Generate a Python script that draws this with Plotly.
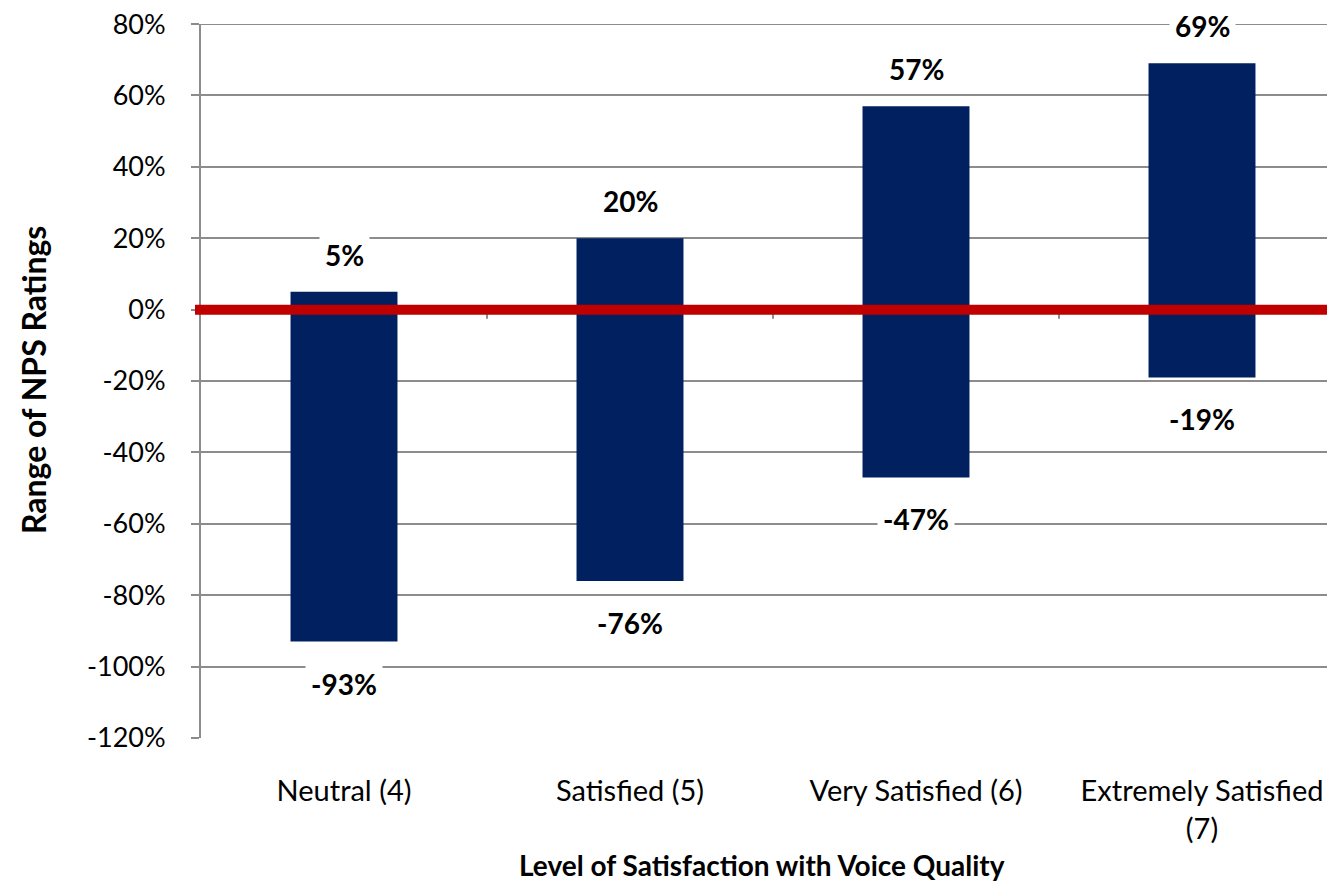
import plotly.graph_objects as go

categories = ["Neutral (4)", "Satisfied (5)", "Very Satisfied (6)", "Extremely Satisfied<br>(7)"]
high_vals = [5, 20, 57, 69]
low_vals = [-93, -76, -47, -19]
y_ticks = [80, 60, 40, 20, 0, -20, -40, -60, -80, -100, -120]

FONT = "Lato"
xs = list(range(len(categories)))

# page body has an 8px default margin; compensate in the figure margins
W, H = 1335, 883
L, T = 193, 16
B = H - 730
plot_w = W - L

fig = go.Figure()
fig.add_trace(go.Bar(
    x=xs,
    y=[h - l for h, l in zip(high_vals, low_vals)],
    base=low_vals,
    width=0.374,
    marker=dict(color="#002060", line=dict(width=0)),
    hoverinfo="skip",
))

# labels
for i, (h, l) in enumerate(zip(high_vals, low_vals)):
    fig.add_annotation(x=i, y=h, text=f"<b>{h}%</b>", showarrow=False, yshift=37,
                       font=dict(family=FONT, size=28, color="black"), bgcolor="white",
                       borderpad=5)
    fig.add_annotation(x=i, y=l, text=f"<b>{l}%</b>", showarrow=False, yshift=-42,
                       font=dict(family=FONT, size=28, color="black"), bgcolor="white",
                       borderpad=5)

# axis titles
fig.add_annotation(xref="paper", yref="paper", x=(762 - 8 - L) / plot_w, y=0,
                   xanchor="center", yanchor="middle",
                   yshift=-127, text="<b>Level of Satisfaction with Voice Quality</b>",
                   showarrow=False, font=dict(family=FONT, size=28, color="black"))
fig.add_annotation(xref="paper", yref="paper", x=0, xshift=-(L - 25), y=0.5 + 1 / 714,
                   xanchor="center", yanchor="middle",
                   text="<b>Range of NPS Ratings</b>", textangle=-90,
                   showarrow=False, font=dict(family=FONT, size=32, color="black"))

# small tick marks on the zero-crossing category axis
for i in range(len(categories) - 1):
    fig.add_shape(type="line", xref="x", yref="y", x0=i + 0.5, x1=i + 0.5,
                  ysizemode="pixel", yanchor=0, y0=0, y1=-9,
                  line=dict(color="#8c8c8c", width=2), layer="below")

# top gridline (plotly drops gridlines at the very edge of the plot)
fig.add_shape(type="line", xref="paper", yref="y", x0=-8 / plot_w, x1=1,
              y0=y_ticks[0], y1=y_ticks[0], line=dict(color="#8c8c8c", width=2), layer="below")

# red zero line
fig.add_shape(type="line", xref="paper", yref="y", x0=-6 / plot_w, x1=1, y0=0, y1=0,
              line=dict(color="#C00000", width=10), layer="above")

fig.update_layout(
    width=W, height=H,
    margin=dict(l=L, r=0, t=T, b=B, autoexpand=False),
    paper_bgcolor="white", plot_bgcolor="white",
    showlegend=False,
    font=dict(family=FONT, color="black"),
    xaxis=dict(
        range=[-0.5, -0.5 + plot_w / 286],
        tickmode="array", tickvals=xs, ticktext=categories,
        tickfont=dict(family=FONT, size=29, color="black"),
        showgrid=False, zeroline=False, showline=False, ticks="",
        ticklabelstandoff=33, automargin=False,
    ),
    yaxis=dict(
        range=[-120, 80.02],
        tickmode="array", tickvals=y_ticks, ticktext=[f"{v}%" for v in y_ticks],
        tickfont=dict(family=FONT, size=27, color="black"),
        ticklabeloverflow="allow",
        showgrid=True, gridcolor="#8c8c8c", gridwidth=2,
        zeroline=False, automargin=False,
        showline=True, linecolor="#8c8c8c", linewidth=2,
        ticks="outside", ticklen=8, tickcolor="#8c8c8c", tickwidth=2,
        ticklabelstandoff=20,
    ),
)

fig.write_html("out.html")
